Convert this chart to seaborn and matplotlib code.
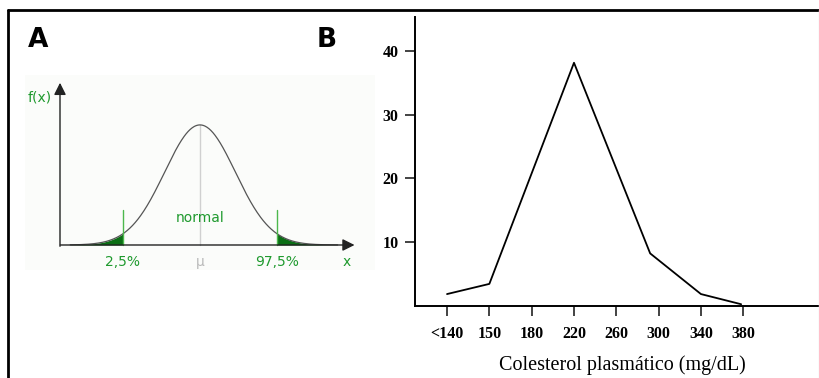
import numpy as np
import pandas as pd
import seaborn as sns
import matplotlib.pyplot as plt
from matplotlib.lines import Line2D

sns.set_style("white")
plt.rcParams['font.family'] = ['DejaVu Sans']

# Panel B data (x = position along the category axis)
chol_labels = ['<140', '150', '180', '220', '260', '300', '340', '380']
chol_pos = [0, 1, 3, 4.8, 6, 6.95]
freq = [1.8, 3.4, 38.2, 8.2, 1.8, 0.2]
y_ticks = [10, 20, 30, 40]

# Panel A: schematic normal density with 2.5% / 97.5% cut points
mu, sigma = 0.0, 0.9
z_cut = 1.96
tail_labels = ['2,5%', 'µ', '97,5%']

W, H = 820, 378
fig = plt.figure(figsize=(W / 100, H / 100), dpi=100)


def px_axes(x0, y0, x1, y1):
    # pixel box (top-left origin) -> figure axes
    return fig.add_axes([x0 / W, 1 - y1 / H, (x1 - x0) / W, (y1 - y0) / H])


# outer frame
fig.add_artist(Line2D([8 / W, 1], [1 - 10 / H] * 2, color='black', lw=2))
fig.add_artist(Line2D([8 / W] * 2, [0, 1 - 10 / H], color='black', lw=2))
fig.add_artist(Line2D([819 / W] * 2, [0, 1 - 10 / H], color='#e6e6e6', lw=1))

fig.text(38 / W, 1 - 40 / H, 'A', fontsize=19, fontweight='heavy', color='black', ha='center', va='center')
fig.text(327 / W, 1 - 40 / H, 'B', fontsize=19, fontweight='heavy', color='black', ha='center', va='center')

# ---------------- Panel A ----------------
axA = px_axes(25, 75, 375, 270)
axA.set_facecolor('#fbfcfa')
for s in axA.spines.values():
    s.set_visible(False)
axA.set_xticks([])
axA.set_yticks([])
axA.set_xlim(-4.45, 4.45)
axA.set_ylim(-0.0923, 0.6275)

xs = np.linspace(-3.3, 3.5, 400)
pdf = np.exp(-0.5 * ((xs - mu) / sigma) ** 2) / (sigma * np.sqrt(2 * np.pi))
green = '#1f9a2e'
dark_green = '#0a6e14'

axA.plot([mu, mu], [0, pdf.max()], color='#d0d0d0', lw=1)
axA.fill_between(xs, 0, pdf, where=xs <= -z_cut, color=dark_green, lw=0)
axA.fill_between(xs, 0, pdf, where=xs >= z_cut, color=dark_green, lw=0)
sns.lineplot(x=xs, y=pdf, ax=axA, color='#555555', lw=0.9)
for zc in (-z_cut, z_cut):
    axA.plot([zc, zc], [0, 0.129], color='#4cb84c', lw=1)

axA.annotate('', xy=(4.0, 0), xytext=(-3.62, 0),
             arrowprops=dict(arrowstyle='-|>', color='#222222', lw=1, mutation_scale=18))
axA.annotate('', xy=(-3.56, 0.609), xytext=(-3.56, -0.015),
             arrowprops=dict(arrowstyle='-|>', color='#222222', lw=1, mutation_scale=18))

axA.text(mu, 0.1, 'normal', color=green, fontsize=10, ha='center', va='center')
for pos, lab, col in zip([-z_cut, mu, z_cut], tail_labels, [green, '#bbbbbb', green]):
    axA.text(pos, -0.063, lab, color=col, fontsize=10, ha='center', va='center')
axA.text(3.72, -0.063, 'x', color=green, fontsize=10, ha='center', va='center')
axA.text(-4.08, 0.546, 'f(x)', color=green, fontsize=10, ha='center', va='center')

# ---------------- Panel B ----------------
axB = px_axes(415, 17, 830, 305.5)
axB.set_facecolor('white')
df = pd.DataFrame({'pos': chol_pos, 'freq': freq})
sns.lineplot(data=df, x='pos', y='freq', ax=axB, color='black', lw=1.3)
axB.set_xlim(-0.757, 9.05)
axB.set_ylim(0, 45.4)
axB.set_xticks(range(len(chol_labels)))
axB.set_xticklabels(chol_labels)
axB.set_yticks(y_ticks)
axB.set_xlabel('Colesterol plasmático (mg/dL)', fontsize=14.5, family='Liberation Serif',
               color='black', labelpad=9)
axB.set_ylabel('')
for s in ['top', 'right']:
    axB.spines[s].set_visible(False)
for s in ['left', 'bottom']:
    axB.spines[s].set_linewidth(1.4)
    axB.spines[s].set_color('black')
axB.tick_params(axis='both', length=7, width=1.2, color='#222222', direction='out',
                labelsize=11.5, pad=5, bottom=True, left=True, labelcolor='black')
axB.tick_params(axis='x', pad=8)
for lab in axB.get_xticklabels() + axB.get_yticklabels():
    lab.set_family('Liberation Serif')
    lab.set_fontweight('bold')

fig.savefig('out.png', dpi=100)
